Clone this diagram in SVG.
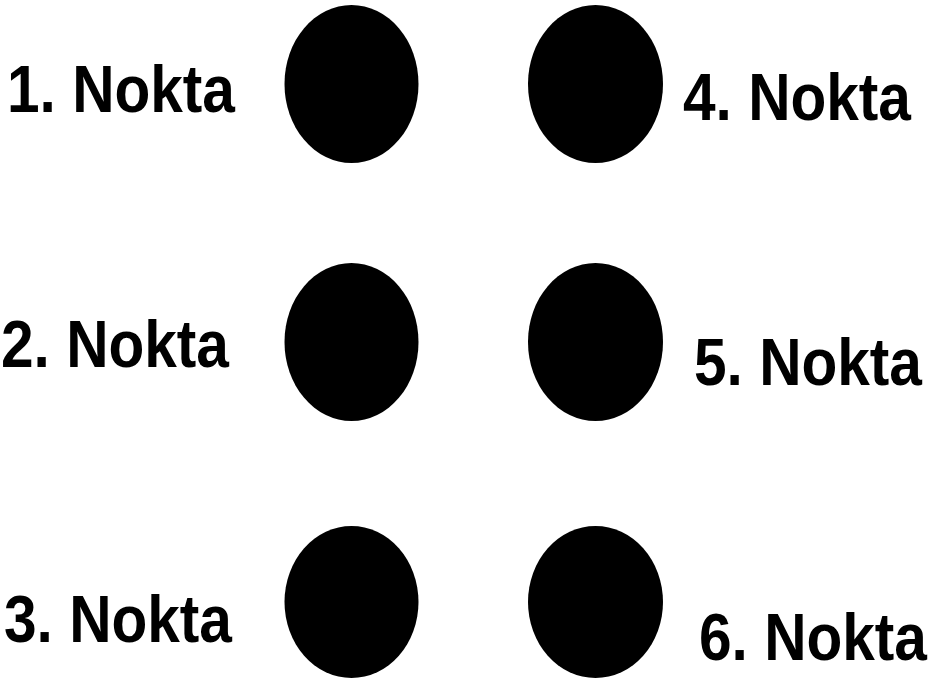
<svg xmlns="http://www.w3.org/2000/svg" width="933" height="687" viewBox="0 0 933 687">
<style>
.dot{fill:#000}
.lbl{font-family:"Liberation Sans",Arial,sans-serif;font-weight:bold;font-size:58.6px;fill:#000}
</style>
<rect width="933" height="687" fill="#fff"/>
<g id="nokta1"><ellipse class="dot" cx="351.5" cy="84" rx="67" ry="79"/><text class="lbl" transform="translate(7,112) scale(1,1.143)" x="0" y="0">1. Nokta</text></g>
<g id="nokta2"><ellipse class="dot" cx="351.5" cy="342" rx="67" ry="79"/><text class="lbl" transform="translate(1,367) scale(1,1.143)" x="0" y="0">2. Nokta</text></g>
<g id="nokta3"><ellipse class="dot" cx="351.5" cy="602" rx="67" ry="76"/><text class="lbl" transform="translate(4,642) scale(1,1.143)" x="0" y="0">3. Nokta</text></g>
<g id="nokta4"><ellipse class="dot" cx="595.5" cy="84" rx="67.5" ry="79"/><text class="lbl" transform="translate(683,120) scale(1,1.143)" x="0" y="0">4. Nokta</text></g>
<g id="nokta5"><ellipse class="dot" cx="595.5" cy="342" rx="67.5" ry="79"/><text class="lbl" transform="translate(694,385) scale(1,1.143)" x="0" y="0">5. Nokta</text></g>
<g id="nokta6"><ellipse class="dot" cx="595.5" cy="602" rx="67.5" ry="76"/><text class="lbl" transform="translate(699,660) scale(1,1.143)" x="0" y="0">6. Nokta</text></g>
<g id="connectors"/>
</svg>
